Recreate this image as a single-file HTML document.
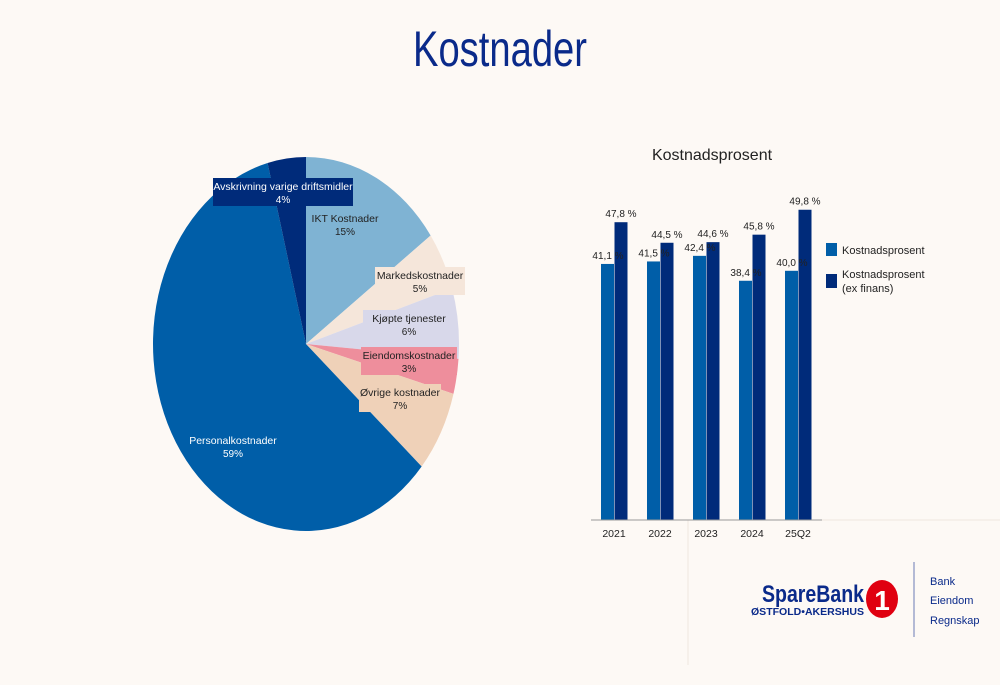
<!DOCTYPE html>
<html><head><meta charset="utf-8">
<style>
html,body{margin:0;padding:0;background:#fdf9f5;}
svg{display:block;font-family:"Liberation Sans",sans-serif;}
</style></head>
<body>
<svg id="root" width="1000" height="685" viewBox="0 0 1000 685" xmlns="http://www.w3.org/2000/svg">
<rect width="1000" height="685" fill="#fdf9f5"/>
<text x="500" y="66" text-anchor="middle" font-size="50" fill="#0a2a8a" textLength="174" lengthAdjust="spacingAndGlyphs">Kostnader</text>
<g id="pie"></g>
<text x="712" y="160" text-anchor="middle" font-size="16" fill="#222">Kostnadsprosent</text>
<line x1="822" y1="520" x2="1000" y2="520" stroke="#eee6e0" stroke-width="1"/>
<line x1="688" y1="520" x2="688" y2="665" stroke="#eee6e0" stroke-width="1"/>
<g id="bars"></g>
<g>
 <rect x="826" y="243" width="11" height="13" fill="#005ea8"/>
 <text x="842" y="254" font-size="11" fill="#222">Kostnadsprosent</text>
 <rect x="826" y="274" width="11" height="14" fill="#002b7a"/>
 <text x="842" y="278" font-size="11" fill="#222">Kostnadsprosent</text>
 <text x="842" y="292" font-size="11" fill="#222">(ex finans)</text>
</g>
<g>
 <text x="762" y="602" font-size="24" font-weight="bold" fill="#0a2a8a" textLength="102" lengthAdjust="spacingAndGlyphs">SpareBank</text>
 <text x="751" y="615" font-size="10" font-weight="bold" fill="#0a2a8a" textLength="113" lengthAdjust="spacingAndGlyphs">ØSTFOLD•AKERSHUS</text>
 <ellipse cx="882" cy="599" rx="16" ry="19" fill="#e00010"/>
 <text x="882" y="610" text-anchor="middle" font-size="28" font-weight="bold" fill="#fff">1</text>
 <line x1="914" y1="562" x2="914" y2="637" stroke="#6b7bb5" stroke-width="1"/>
 <text x="930" y="585" font-size="11" fill="#0a2a8a">Bank</text>
 <text x="930" y="604" font-size="11" fill="#0a2a8a">Eiendom</text>
 <text x="930" y="624" font-size="11" fill="#0a2a8a">Regnskap</text>
</g>
</svg>
<script>
const NS="http://www.w3.org/2000/svg";
// Pie data
const pieLabels=["IKT Kostnader","Markedskostnader","Kjøpte tjenester","Eiendomskostnader","Øvrige kostnader","Personalkostnader","Avskrivning varige driftsmidler"];
const pieValues=[15,5,6,3,7,59,4];
const pieColors=["#7fb3d3","#f5e6da","#d8d8ea","#ee8e9c","#efd1b8","#005ea8","#002b7a"];
// Bar data
const categories=["2021","2022","2023","2024","25Q2"];
const seriesA=[41.1,41.5,42.4,38.4,40.0];
const seriesB=[47.8,44.5,44.6,45.8,49.8];

function el(tag,attrs,parent){const e=document.createElementNS(NS,tag);for(const k in attrs)e.setAttribute(k,attrs[k]);parent.appendChild(e);return e;}

// Pie
const pie=document.getElementById('pie');
const cx=306,cy=344,rx=153,ry=187;
const total=pieValues.reduce((a,b)=>a+b,0);
function pt(frac,sx,sy){const a=frac*2*Math.PI;return [cx+sx*Math.sin(a),cy-sy*Math.cos(a)];}
let acc=0;
const labelPos=[[345,222],[420,279],[409,322],[409,359],[400,396],[233,444],[283,190]];
const labelBoxW=[0,90,92,96,82,0,140];
const labelBg=[null,"#f5e6da","#d8d8ea","#ee8e9c","#efd1b8",null,"#002b7a"];
const labelFg=["#222","#222","#222","#222","#222","#fff","#fff"];
pieValues.forEach((v,i)=>{
  const f0=acc/total,f1=(acc+v)/total;acc+=v;
  const p0=pt(f0,rx,ry),p1=pt(f1,rx,ry);
  const large=(f1-f0)>0.5?1:0;
  const p=el('path',{d:`M${cx},${cy} L${p0[0]},${p0[1]} A${rx},${ry} 0 ${large} 1 ${p1[0]},${p1[1]} Z`,fill:pieColors[i]},pie);
  
  
});
pieValues.forEach((v,i)=>{
  const [lx,ly]=labelPos[i];
  const g=el('g',{},pie);
  
  
  if(labelBg[i]){
    const w=labelBoxW[i];
    el('rect',{x:lx-w/2,y:ly-12,width:w,height:28,fill:labelBg[i]},g);
  }
  const t1=el('text',{x:lx,y:ly,'text-anchor':'middle','font-size':10.5,fill:labelFg[i]},g);
  t1.textContent=pieLabels[i];
  const t2=el('text',{x:lx,y:ly+13,'text-anchor':'middle','font-size':10,fill:labelFg[i]},g);
  t2.textContent=v+'%';
});

// Bars
const bars=document.getElementById('bars');
const y0=520,scale=6.23,x0=614,step=46,bw=13;
const yS=v=>y0-v*scale;
const xS=i=>x0+i*step;
const fmt=v=>v.toFixed(1).replace('.',',')+' %';
categories.forEach((c,i)=>{
  const xc=xS(i);
  const a=el('rect',{x:xc-bw,y:yS(seriesA[i]),width:bw,height:y0-yS(seriesA[i]),fill:'#005ea8'},bars);
  
  
  const b=el('rect',{x:xc+0.5,y:yS(seriesB[i]),width:bw,height:y0-yS(seriesB[i]),fill:'#002b7a'},bars);
  
  
  const ta=el('text',{x:xc-6,y:yS(seriesA[i])-5,'text-anchor':'middle','font-size':10,fill:'#222'},bars);
  ta.textContent=fmt(seriesA[i]);
  
  
  const tb=el('text',{x:xc+7,y:yS(seriesB[i])-5,'text-anchor':'middle','font-size':10,fill:'#222'},bars);
  tb.textContent=fmt(seriesB[i]);
  
  
  const tx=el('text',{x:xc,y:537,'text-anchor':'middle','font-size':10.5,fill:'#222'},bars);
  tx.textContent=c;
  
  
});
const ax=el('line',{x1:591,y1:y0,x2:822,y2:y0,stroke:'#999','stroke-width':1},bars);


</script>
</body></html>
